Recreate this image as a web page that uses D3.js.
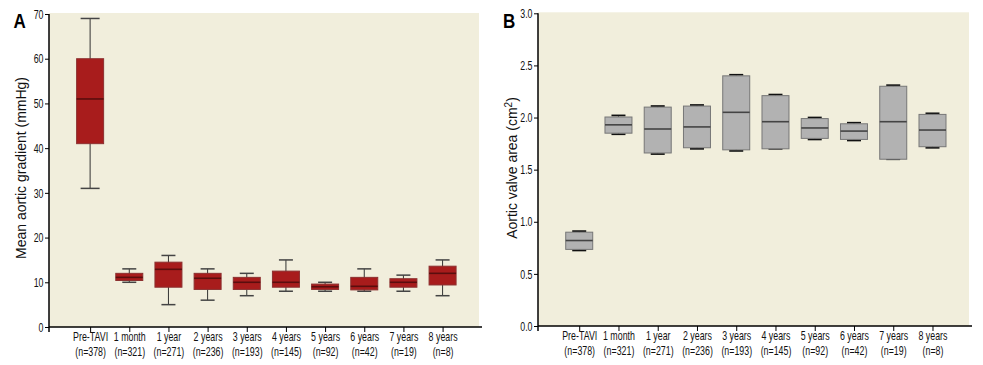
<!DOCTYPE html>
<html>
<head>
<meta charset="utf-8">
<script src="https://cdn.jsdelivr.net/npm/d3@7"></script>
<style>
  html, body { margin: 0; padding: 0; background: #fff; }
  svg { display: block; }
  .tick text, .cat { font-family: "Liberation Sans", Arial, sans-serif; font-size: 13px; fill: #111; }
  .title { font-family: "Liberation Sans", Arial, sans-serif; font-size: 14px; fill: #111; }
  .letter { font-family: "Liberation Sans", Arial, sans-serif; font-weight: bold; font-size: 20px; fill: #000; }
</style>
</head>
<body>
<svg id="chart" width="983" height="365"></svg>
<script>
// ---- data ----
const categories = ["Pre-TAVI", "1 month", "1 year", "2 years", "3 years", "4 years", "5 years", "6 years", "7 years", "8 years"];
const nLabels = ["(n=378)", "(n=321)", "(n=271)", "(n=236)", "(n=193)", "(n=145)", "(n=92)", "(n=42)", "(n=19)", "(n=8)"];

const gradientMin    = [31, 10,   5,    6,    7,    8,    8,   8,    8,    7];
const gradientQ1     = [41, 10.4, 8.9,  8.4,  8.4,  8.9,  8.4, 8.3,  8.9,  9.4];
const gradientMedian = [51, 11.1, 12.9, 10.9, 10,   10,   9,   9.1,  10,   12];
const gradientQ3     = [60, 12,   14.5, 12,   11.1, 12.5, 9.6, 11.1, 10.8, 13.6];
const gradientMax    = [69, 13,   16,   13,   12,   15,   10,  13,   11.6, 15];

const areaMin    = [0.725, 1.84,  1.65, 1.70, 1.68, 1.70, 1.79, 1.78, 1.60, 1.71];
const areaQ1     = [0.735, 1.85,  1.66, 1.71, 1.69, 1.70, 1.80, 1.79, 1.60, 1.72];
const areaMedian = [0.82,  1.93,  1.89, 1.91, 2.05, 1.96, 1.90, 1.87, 1.96, 1.88];
const areaQ3     = [0.90,  2.005, 2.10, 2.11, 2.40, 2.21, 1.99, 1.94, 2.30, 2.03];
const areaMax    = [0.91,  2.02,  2.11, 2.12, 2.41, 2.22, 2.00, 1.95, 2.31, 2.04];

const gradientTicks = [0, 10, 20, 30, 40, 50, 60, 70];
const areaTicks = [0, 0.5, 1.0, 1.5, 2.0, 2.5, 3.0];

// ---- drawing ----
const svg = d3.select("#chart");
const SX = 0.68; // condensed look

function panel(opts) {
  const g = svg.append("g");
  const x = d3.scaleLinear().domain([-1.05, 9.93]).range([opts.left, opts.right]);
  const y = d3.scaleLinear().domain([0, opts.yMax]).range([opts.bottom, opts.top]);

  g.append("rect")
    .attr("x", opts.left).attr("y", y(opts.yMax) - 1)
    .attr("width", opts.right - opts.left).attr("height", opts.bottom - y(opts.yMax) + 1)
    .attr("fill", "#f1eedc");

  const rows = categories.map((c, i) => ({
    i, min: opts.min[i], q1: opts.q1[i], med: opts.med[i], q3: opts.q3[i], max: opts.max[i]
  }));

  const bw = 27, cw = 14;
  const box = g.selectAll("g.box").data(rows).join("g").attr("class", "box");

  box.append("line")
    .attr("x1", d => x(d.i)).attr("x2", d => x(d.i))
    .attr("y1", d => y(d.max)).attr("y2", d => y(d.min))
    .attr("stroke", opts.whisker).attr("stroke-width", 1);
  box.append("line")
    .attr("x1", d => x(d.i) - (d.i === 0 ? opts.cap0 : cw) / 2).attr("x2", d => x(d.i) + (d.i === 0 ? opts.cap0 : cw) / 2)
    .attr("y1", d => y(d.max)).attr("y2", d => y(d.max))
    .attr("stroke", opts.capColor).attr("stroke-width", opts.capWidth);
  box.append("line")
    .attr("x1", d => x(d.i) - (d.i === 0 ? opts.cap0 : cw) / 2).attr("x2", d => x(d.i) + (d.i === 0 ? opts.cap0 : cw) / 2)
    .attr("y1", d => y(d.min)).attr("y2", d => y(d.min))
    .attr("stroke", opts.capColor).attr("stroke-width", opts.capWidth);
  box.append("rect")
    .attr("x", d => x(d.i) - bw / 2).attr("width", bw)
    .attr("y", d => y(d.q3)).attr("height", d => y(d.q1) - y(d.q3))
    .attr("fill", opts.fill).attr("stroke", opts.stroke).attr("stroke-width", 1);
  box.append("line")
    .attr("x1", d => x(d.i) - bw / 2).attr("x2", d => x(d.i) + bw / 2)
    .attr("y1", d => y(d.med)).attr("y2", d => y(d.med))
    .attr("stroke", opts.medColor).attr("stroke-width", 1.6);

  // y axis
  const ya = g.append("g").attr("transform", `translate(${opts.left},0)`)
    .call(d3.axisLeft(y).tickValues(opts.ticks).tickFormat(opts.fmt).tickSize(4).tickPadding(2));
  ya.select(".domain").attr("d", `M0,${y(opts.yMax)}V${opts.bottom + 5}`).attr("stroke", "#000").attr("stroke-width", 1.5);
  ya.selectAll(".tick line").attr("stroke", "#000");
  ya.selectAll(".tick text").attr("x", -5.5 / SX).attr("transform", `scale(${SX},1)`);

  // x axis
  const xa = g.append("g").attr("transform", `translate(0,${opts.bottom})`)
    .call(d3.axisBottom(x).tickValues(d3.range(categories.length)).tickFormat("").tickSize(5));
  xa.select(".domain").attr("d", `M${opts.left},0H${opts.right + 3}`).attr("stroke", "#000").attr("stroke-width", 1.5);
  xa.selectAll(".tick line").attr("stroke", "#000");
  xa.selectAll(".tick").each(function(d) {
    const t = d3.select(this).append("text").attr("class", "cat").attr("text-anchor", "middle")
      .attr("transform", `scale(${SX},1)`);
    t.append("tspan").attr("x", 0).attr("y", 14.5).text(categories[d]);
    t.append("tspan").attr("x", 0).attr("y", 29.5).text(nLabels[d]);
  });

  // title
  g.append("text").attr("class", "title")
    .attr("transform", `translate(${opts.titleX},${opts.titleY}) rotate(-90)`)
    .attr("text-anchor", "middle")
    .html(opts.title);

  g.append("text").attr("class", "letter")
    .attr("transform", `translate(${opts.letterX},27.5) scale(0.85,1)`).text(opts.letter);
}

panel({
  left: 49, right: 479, top: 14, bottom: 327, yMax: 70,
  ticks: gradientTicks, fmt: d3.format("d"),
  min: gradientMin, q1: gradientQ1, med: gradientMedian, q3: gradientQ3, max: gradientMax,
  fill: "#a81c1c", stroke: "#8c3030", medColor: "#5a0e0e", whisker: "#333", capColor: "#444", capWidth: 1.5, cap0: 19,
  title: "Mean aortic gradient (mmHg)", titleX: 26, titleY: 168,
  letter: "A", letterX: 13.5
});

panel({
  left: 538, right: 969, top: 13.3, bottom: 326, yMax: 3.0,
  ticks: areaTicks, fmt: d3.format(".1f"),
  min: areaMin, q1: areaQ1, med: areaMedian, q3: areaQ3, max: areaMax,
  fill: "#b2b2b2", stroke: "#777", medColor: "#444", whisker: "#666", capColor: "#111", capWidth: 1.8, cap0: 14,
  title: "Aortic valve area (cm<tspan dy='-5' font-size='10'>2</tspan><tspan dy='5'>)</tspan>", titleX: 517, titleY: 168,
  letter: "B", letterX: 503
});
</script>
</body>
</html>
